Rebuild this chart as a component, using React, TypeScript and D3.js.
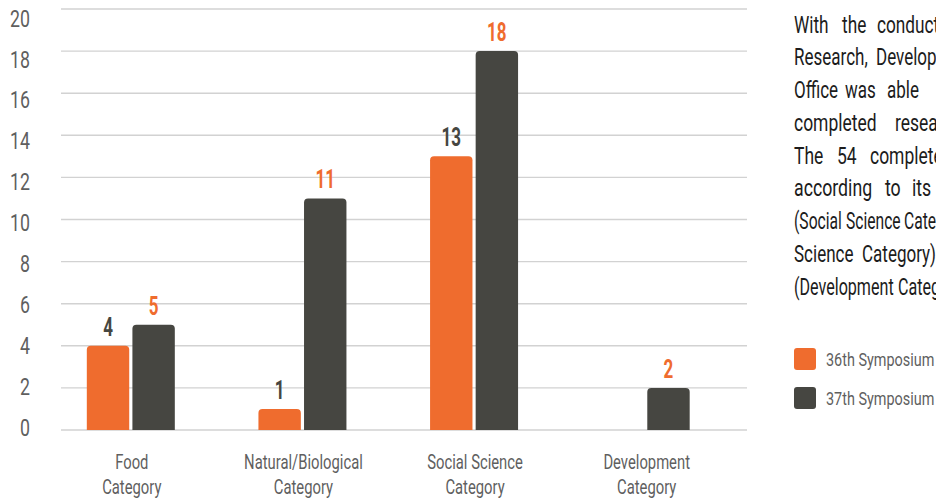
import React from "react";
import * as d3 from "d3";

const categories = ["Food|Category", "Natural/Biological|Category", "Social Science|Category", "Development|Category"];
const series = ["36th Symposium", "37th Symposium"];
const values36 = [4, 1, 13, 0];
const values37 = [5, 11, 18, 2];
const yTicks = [0, 2, 4, 6, 8, 10, 12, 14, 16, 18, 20];

const paragraphLines: string[][] = [
  ["With", "the", "conduct"],
  ["Research,", "Development"],
  ["Office", "was", "able"],
  ["completed", "research"],
  ["The", "54", "completed"],
  ["according", "to", "its"],
  ["(Social", "Science", "Category"],
  ["Science", "Category)"],
  ["(Development", "Category)"],
];
// word start offsets (layout) per line
const wordOffsets: number[][] = [
  [0, 48, 83],
  [0, 82],
  [0, 51, 93],
  [0, 101],
  [0, 43, 76],
  [0, 91, 118],
  [0, 52, 110],
  [0, 68],
  [0, 104],
];
// horizontal glyph scale per line (condensed type)
const lineScales = [0.75, 0.74, 0.74, 0.76, 0.76, 0.77, 0.68, 0.74, 0.7];

const W = 936;
const H = 500;
const ORANGE = "#EF6C2E";
const DARK = "#464641";
const FONT = "Roboto, 'Noto Sans', sans-serif";

function topRoundedRect(x: number, y: number, w: number, h: number, r: number) {
  const rr = Math.min(r, h, w / 2);
  return `M${x},${y + h}V${y + rr}Q${x},${y} ${x + rr},${y}H${x + w - rr}Q${x + w},${y} ${x + w},${y + rr}V${y + h}Z`;
}

type CTProps = {
  x: number;
  y: number;
  sx?: number;
  children: React.ReactNode;
  [k: string]: any;
};
function CT({ x, y, sx = 0.76, children, ...rest }: CTProps) {
  return (
    <text transform={`translate(${x},${y}) scale(${sx},1)`} {...rest}>
      {children}
    </text>
  );
}

export default function App() {
  const x0 = d3.scaleBand<string>().domain(categories).range([45, 731.5]).padding(0);
  const x1 = d3.scaleBand<string>().domain(series).range([-44, 44]).paddingInner(0.07).paddingOuter(0);
  const y = d3.scaleLinear().domain([0, 20]).range([430, 9]);
  const yLabel = d3.scaleLinear().domain([0, 20]).range([427, 18]);

  const rows = categories.map((c, i) => ({ c, vals: [values36[i], values37[i]] }));

  return (
    <div style={{ position: "absolute", left: 0, top: 0 }}>
      <svg width={W} height={H} style={{ display: "block", background: "#fff" }} fontFamily={FONT}>
        {/* gridlines */}
        {yTicks.map((t) => (
          <line key={t} x1={61} x2={747} y1={y(t)} y2={y(t)} stroke="#d2d2d2" strokeWidth={1.4} />
        ))}
        {/* y labels */}
        {yTicks.map((t) => (
          <CT key={"l" + t} x={30} y={yLabel(t)} sx={0.74} dy="0.36em" textAnchor="end" fontSize={24} fill="#5f5f5f">
            {t}
          </CT>
        ))}
        {/* bars */}
        {rows.map((r) =>
          r.vals.map((v, j) => {
            if (v <= 0) return null;
            const bx = (x0(r.c) as number) + x0.bandwidth() / 2 + (x1(series[j]) as number);
            const bw = x1.bandwidth();
            const by = y(v);
            return (
              <g key={r.c + j}>
                <path d={topRoundedRect(bx, by, bw, y(0) - by, 4)} fill={j === 0 ? ORANGE : DARK} />
                <CT
                  x={bx + bw / 2}
                  y={by - 10}
                  sx={0.68}
                  textAnchor="middle"
                  fontSize={25}
                  fontWeight="bold"
                  fill={j === 0 ? DARK : ORANGE}
                >
                  {v}
                </CT>
              </g>
            );
          })
        )}
        {/* category labels */}
        {categories.map((c) => {
          const cx = (x0(c) as number) + x0.bandwidth() / 2 + 1;
          const [a, b] = c.split("|");
          return (
            <g key={"c" + c}>
              <CT x={cx} y={469} sx={0.76} textAnchor="middle" fontSize={19.5} fill="#5f5f5f">{a}</CT>
              <CT x={cx} y={494} sx={0.76} textAnchor="middle" fontSize={19.5} fill="#5f5f5f">{b}</CT>
            </g>
          );
        })}
        {/* paragraph */}
        {paragraphLines.map((words, i) =>
          words.map((w, k) => (
            <CT
              key={"p" + i + "-" + k}
              x={794 + wordOffsets[i][k]}
              y={32.5 + i * 32.75}
              sx={lineScales[i]}
              fontSize={23}
              fill="#1c1c1c"
            >
              {w}
            </CT>
          ))
        )}
        {/* legend */}
        {series.map((s, i) => (
          <g key={"lg" + s} transform={`translate(794,${348 + i * 39})`}>
            <rect width={22} height={22} rx={3} fill={i === 0 ? ORANGE : DARK} />
            <CT x={32} y={11} sx={0.78} dy="0.36em" fontSize={18.5} fill="#5f5f5f">{s}</CT>
          </g>
        ))}
      </svg>
    </div>
  );
}
